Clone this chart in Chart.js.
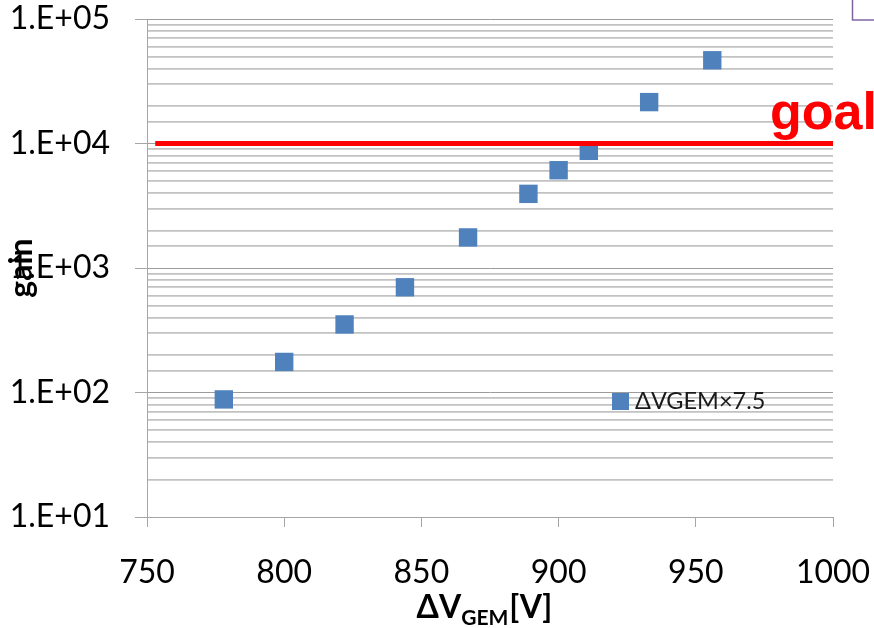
<!DOCTYPE html>
<html>
<head>
<meta charset="utf-8">
<script src="https://cdn.jsdelivr.net/npm/chart.js@4.4.0/dist/chart.umd.min.js"></script>
<style>
  html, body { margin: 0; padding: 0; background: #fff; }
</style>
</head>
<body>
<canvas id="gainChart" width="874" height="628"></canvas>
<script>
// measured points (ΔV_GEM in V, gain)
const voltages = [778, 800, 822, 844, 867, 889, 900, 911, 933, 956];
const gains = [88, 176, 352, 700, 1760, 3940, 6100, 8730, 21500, 46600];
const seriesLabel = 'ΔVGEM×7.5';

// goal line
const goalVoltages = [753, 1000];
const goalGains = [10000, 10000];
const goalLabel = 'goal';

// axes
const yTickValues = [10, 100, 1000, 10000, 100000];
const yTickLabels = ['1.E+01', '1.E+02', '1.E+03', '1.E+04', '1.E+05'];
const xTickValues = [750, 800, 850, 900, 950, 1000];
const xTickLabels = ['750', '800', '850', '900', '950', '1000'];

const isMajor = v => yTickValues.includes(v);

const extras = {
  id: 'extras',
  afterDraw(chart) {
    const ctx = chart.ctx;
    const area = chart.chartArea;
    ctx.save();

    // legend box inside the plot
    ctx.fillStyle = '#4f81bd';
    ctx.fillRect(612, 393, 17, 17);
    ctx.fillStyle = '#1a1a1a';
    ctx.font = '23.5px Lato';
    ctx.textBaseline = 'alphabetic';
    ctx.fillText(seriesLabel, 635, 409);

    // goal label
    ctx.fillStyle = '#ff0000';
    ctx.font = 'bold 52px "Liberation Sans"';
    ctx.fillText(goalLabel, 770, 129);

    // x axis title with subscript
    const big = 'bold 32px Lato', small = 'bold 21px Lato';
    ctx.fillStyle = '#000';
    ctx.font = big;
    const w1 = ctx.measureText('ΔV').width, w3 = ctx.measureText('[V]').width;
    ctx.font = small;
    const w2 = ctx.measureText('GEM').width;
    let x = (area.left + area.right) / 2 - 6 - (w1 + w2 + w3) / 2;
    ctx.font = big;
    ctx.fillText('ΔV', x, 618);
    x += w1;
    ctx.font = small;
    ctx.fillText('GEM', x, 625);
    x += w2 + 1;
    ctx.font = big;
    ctx.fillText('[V]', x, 618);

    // corner of a frame at the top right
    ctx.strokeStyle = '#8064a2';
    ctx.lineWidth = 1.5;
    ctx.strokeRect(852.5, -10, 40, 30);

    ctx.restore();
  }
};

new Chart(document.getElementById('gainChart'), {
  type: 'scatter',
  data: {
    datasets: [
      {
        label: goalLabel,
        type: 'line',
        data: goalVoltages.map((v, i) => ({ x: v, y: goalGains[i] })),
        borderColor: '#ff0000',
        borderWidth: 5,
        pointRadius: 0,
        order: 0
      },
      {
        label: seriesLabel,
        data: voltages.map((v, i) => ({ x: v, y: gains[i] })),
        backgroundColor: '#4f81bd',
        borderColor: '#4f81bd',
        pointStyle: 'rect',
        pointRadius: 13,
        borderWidth: 0,
        order: 1
      }
    ]
  },
  plugins: [extras],
  options: {
    responsive: false,
    animation: false,
    layout: { padding: { top: 19, right: 41, left: 0, bottom: 0 } },
    plugins: {
      legend: { display: false },
      tooltip: { enabled: false }
    },
    scales: {
      x: {
        type: 'linear',
        min: 750,
        max: 1000,
        afterBuildTicks: s => { s.ticks = xTickValues.map(v => ({ value: v })); },
        afterFit: s => { s.height = 111; s.paddingLeft = 0; s.paddingRight = 0; },
        border: { color: '#a6a6a6', width: 1 },
        grid: { drawOnChartArea: false, tickLength: 10, tickColor: '#a6a6a6' },
        ticks: {
          color: '#000',
          font: { family: 'Lato', size: 32 },
          padding: 26,
          maxRotation: 0,
          callback: v => xTickLabels[xTickValues.indexOf(v)]
        }
      },
      y: {
        type: 'logarithmic',
        min: 10,
        max: 100000,
        afterFit: s => { s.width = 147; s.paddingTop = 0; s.paddingBottom = 0; },
        border: { color: '#a6a6a6', width: 1 },
        grid: {
          color: c => isMajor(c.tick.value) ? '#9c9c9c' : '#c2c2c2',
          lineWidth: c => isMajor(c.tick.value) ? 1 : 1.7,
          tickLength: 12,
          tickColor: c => isMajor(c.tick.value) ? '#a6a6a6' : 'rgba(0,0,0,0)'
        },
        ticks: {
          autoSkip: false,
          color: '#000',
          font: { family: 'Lato', size: 32 },
          padding: 25,
          callback: v => isMajor(v) ? yTickLabels[yTickValues.indexOf(v)] : ''
        },
        title: {
          display: true,
          text: 'gain',
          color: '#000',
          font: { family: 'Lato', size: 32, weight: 'bold' },
          padding: { top: 2, bottom: 0 }
        }
      }
    }
  }
});
</script>
</body>
</html>
